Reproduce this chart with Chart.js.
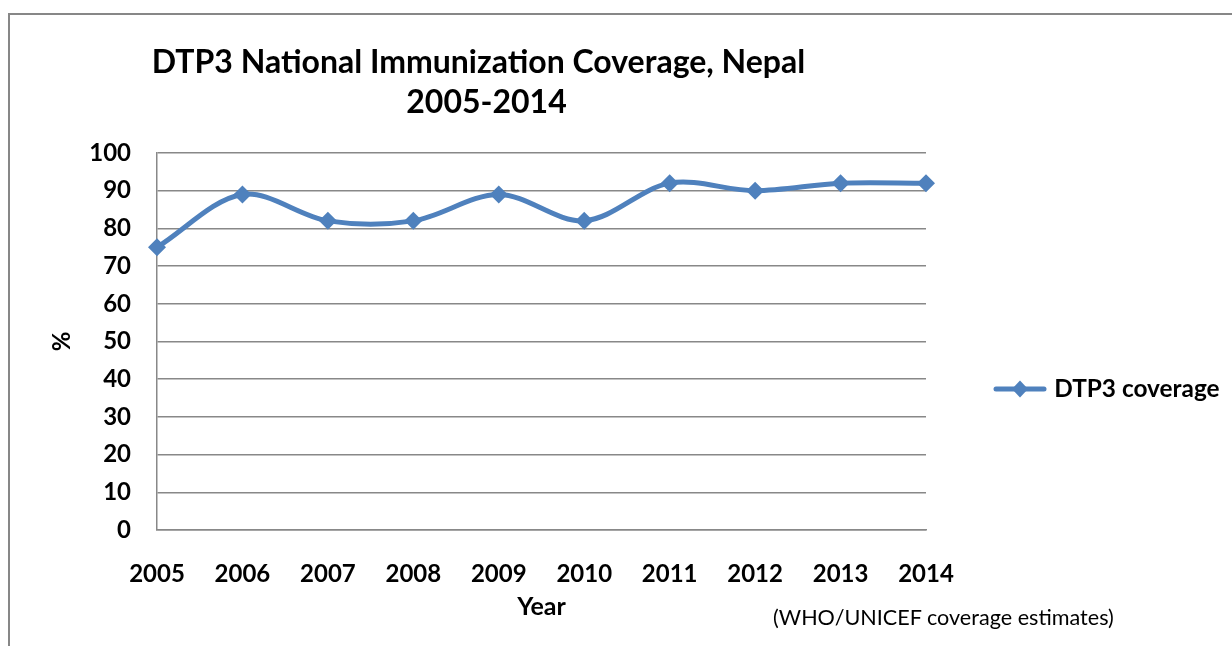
<!DOCTYPE html>
<html><head><meta charset="utf-8">
<script src="https://cdn.jsdelivr.net/npm/chart.js@4/dist/chart.umd.min.js"></script>
<style>
html,body{margin:0;padding:0;background:#fff;}
#wrap{position:relative;width:1232px;height:646px;overflow:hidden;background:#fff;}
#frame{position:absolute;left:8px;top:13px;width:1240px;height:650px;border-left:2px solid #878787;border-top:2px solid #878787;}
canvas{position:absolute;left:0;top:0;}
.t{position:absolute;font-family:Lato;font-weight:bold;font-size:32px;line-height:38px;color:#000;text-align:center;white-space:nowrap;}
#note{position:absolute;left:773px;top:604px;font-family:Lato;font-size:21.6px;line-height:26px;color:#000;white-space:nowrap;}
</style></head><body>
<div id="wrap">
<div id="frame"></div>
<canvas id="c" width="1232" height="646"></canvas>
<div class="t" style="left:0;width:957px;top:42px;">DTP3 National Immunization Coverage, Nepal</div>
<div class="t" style="left:0;width:973px;top:82px;">2005-2014</div>
<div id="note">(WHO/UNICEF coverage estimates)</div>
</div>
<script>
// ---- data ----
const years = ['2005','2006','2007','2008','2009','2010','2011','2012','2013','2014'];
const dtp3Coverage = [75, 89, 82, 82, 89, 82, 92, 90, 92, 92];
const seriesName = 'DTP3 coverage';
const yMin = 0, yMax = 100, yStep = 10;
const xTitle = 'Year';
const yTitle = '%';

// ---- styles ----
const LINE = '#4F81BD';
const GRID = '#888888';
const LEGEND_W = 306;

function legendMarker(){
  const c = document.createElement('canvas');
  c.width = 54; c.height = 20;
  const g = c.getContext('2d');
  g.strokeStyle = LINE; g.lineWidth = 5; g.lineCap = 'round';
  g.beginPath(); g.moveTo(3,10); g.lineTo(51,10); g.stroke();
  g.fillStyle = LINE;
  g.beginPath(); g.moveTo(27,1.5); g.lineTo(35,10); g.lineTo(27,18.5); g.lineTo(19,10); g.closePath(); g.fill();
  return c;
}
const marker = legendMarker();

const fixLegend = {
  id: 'fixLegend',
  beforeLayout(chart){
    const lg = chart.legend;
    if (lg && !lg.__fixed){
      const orig = lg.fit;
      lg.fit = function(){ orig.call(this); this.width = LEGEND_W; };
      lg.__fixed = true;
    }
  }
};

Chart.defaults.color = '#000';
Chart.defaults.font.family = 'Lato';

new Chart(document.getElementById('c'), {
  type: 'line',
  data: {
    labels: years,
    datasets: [{
      label: seriesName,
      data: dtp3Coverage,
      borderColor: LINE,
      backgroundColor: LINE,
      borderWidth: 5,
      tension: 0.33,
      fill: false,
      clip: false,
      pointStyle: 'rectRot',
      pointRadius: 9,
      pointBorderWidth: 0,
      pointBackgroundColor: LINE
    }]
  },
  options: {
    responsive: false,
    animation: false,
    devicePixelRatio: 1,
    layout: { padding: { top: 153, left: 0, right: 0, bottom: 21 } },
    plugins: {
      title: { display: false },
      tooltip: { enabled: false },
      legend: {
        display: true,
        position: 'right',
        labels: {
          usePointStyle: true,
          pointStyleWidth: 44,
          padding: 72,
          color: '#000',
          font: { family: 'Lato', weight: 'bold', size: 24.4 },
          generateLabels(chart){
            const ds = chart.data.datasets[0];
            return [{ text: ds.label, pointStyle: marker, fillStyle: LINE, strokeStyle: LINE, lineWidth: 0, hidden: false, datasetIndex: 0, fontColor: '#000' }];
          }
        }
      }
    },
    scales: {
      x: {
        type: 'category',
        offset: false,
        grid: { display: false },
        border: { display: true, color: GRID, width: 1.5 },
        ticks: { color: '#000', padding: 22, maxRotation: 0, autoSkip: false, font: { family: 'Lato', weight: 'bold', size: 24 } },
        title: { display: true, text: xTitle, color: '#000', font: { family: 'Lato', weight: 'bold', size: 25 }, padding: { top: 0, bottom: 3 } },
        afterFit(s){ s.height = 95; }
      },
      y: {
        min: yMin, max: yMax,
        ticks: { stepSize: yStep, color: '#000', padding: 26, font: { family: 'Lato', weight: 'bold', size: 24 } },
        grid: { color: GRID, lineWidth: 1.5, drawTicks: false },
        border: { display: true, color: GRID, width: 1.5 },
        title: { display: true, text: yTitle, color: '#000', font: { family: 'Lato', weight: 'bold', size: 24 }, padding: { top: 48, bottom: 0 } },
        afterFit(s){ s.width = 157; }
      }
    }
  },
  plugins: [fixLegend]
});
</script>
</body></html>
